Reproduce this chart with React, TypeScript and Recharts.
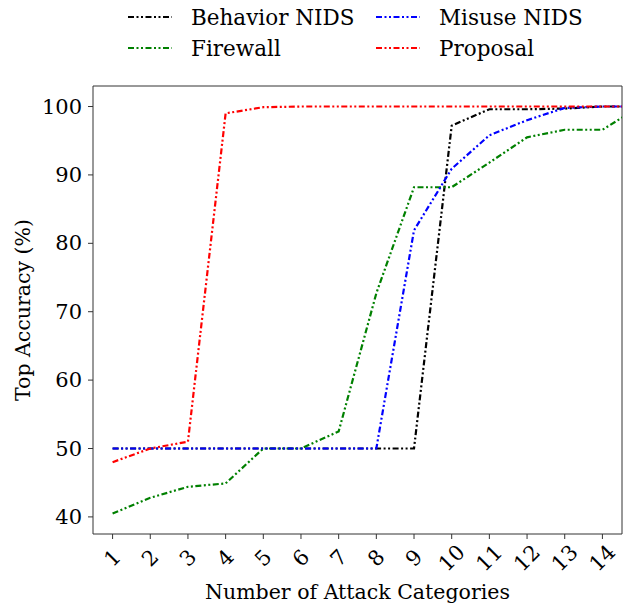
import { LineChart, Line, XAxis, YAxis, ReferenceLine } from 'recharts'

const categories = [1, 2, 3, 4, 5, 6, 7, 8, 9, 10, 11, 12, 13, 14, 15]
const behaviorNids = [50, 50, 50, 50, 50, 50, 50, 50, 50, 97.2, 99.6, 99.6, 99.7, 100, 100]
const firewall = [40.5, 42.8, 44.4, 44.9, 50, 50, 52.5, 72.7, 88.2, 88.2, 91.8, 95.5, 96.6, 96.6, 100]
const misuseNids = [50, 50, 50, 50, 50, 50, 50, 50, 81.9, 90.9, 95.8, 98.0, 99.8, 100, 100]
const proposal = [48, 50, 51, 99, 99.9, 100, 100, 100, 100, 100, 100, 100, 100, 100, 100]

const xTicks = [1, 2, 3, 4, 5, 6, 7, 8, 9, 10, 11, 12, 13, 14]
const yTicks = [40, 50, 60, 70, 80, 90, 100]
const X_DOMAIN = [0.48, 14.52]
const Y_DOMAIN = [37.5, 103]

const data = categories.map((c, i) => ({
  n: c,
  behavior: behaviorNids[i],
  firewall: firewall[i],
  misuse: misuseNids[i],
  proposal: proposal[i],
}))

const FONT = '"DejaVu Serif", serif'
const FS = 21
const DASH = '6 2.5 2 2.5 2 2.5'

const series = [
  { key: 'behavior', name: 'Behavior NIDS', color: '#000000' },
  { key: 'firewall', name: 'Firewall', color: '#008000' },
  { key: 'misuse', name: 'Misuse NIDS', color: '#0000ff' },
  { key: 'proposal', name: 'Proposal', color: '#ff0000' },
]

const XTick = (props: any) => {
  const { x, y, payload } = props
  const cy = y + 17
  return (
    <text
      x={x}
      y={cy}
      textAnchor="middle"
      dominantBaseline="central"
      transform={`rotate(-45, ${x}, ${cy})`}
      fontFamily={FONT}
      fontSize={FS}
      fill="#000"
    >
      {payload.value}
    </text>
  )
}

const YTick = (props: any) => {
  const { x, y, payload } = props
  return (
    <text x={x - 4} y={y} textAnchor="end" dominantBaseline="central" fontFamily={FONT} fontSize={FS} fill="#000">
      {payload.value}
    </text>
  )
}

const legendPos = [
  { x: 128, y: 17 },
  { x: 128, y: 48 },
  { x: 376, y: 17 },
  { x: 376, y: 48 },
]

const ChartLegend = () => (
  <svg width={631} height={70} style={{ position: 'absolute', left: 0, top: 0 }}>
    {series.map((s, i) => (
      <g key={s.key}>
        <line
          x1={legendPos[i].x}
          x2={legendPos[i].x + 44}
          y1={legendPos[i].y}
          y2={legendPos[i].y}
          stroke={s.color}
          strokeWidth={2.2}
          strokeDasharray={DASH}
        />
        <text
          x={legendPos[i].x + 63}
          y={legendPos[i].y}
          dominantBaseline="central"
          fontFamily={FONT}
          fontSize={21.5}
          fill="#000"
        >
          {s.name}
        </text>
      </g>
    ))}
  </svg>
)

export default function App() {
  return (
    <div style={{ position: 'absolute', left: 0, top: 0, width: 631, height: 606, background: '#fff' }}>
      <LineChart width={631} height={606} data={data} margin={{ top: 86, right: 9, left: 0, bottom: 0 }}>
        <XAxis
          dataKey="n"
          type="number"
          domain={X_DOMAIN}
          ticks={xTicks}
          allowDataOverflow
          height={72}
          tick={<XTick />}
          tickSize={5}
          stroke="#333"
          label={{ value: 'Number of Attack Categories', position: 'insideBottom', offset: 7, fontFamily: FONT, fontSize: 20.5, fill: '#000' }}
        />
        <YAxis
          type="number"
          domain={Y_DOMAIN}
          ticks={yTicks}
          allowDataOverflow
          width={93}
          tick={<YTick />}
          tickSize={5}
          stroke="#333"
          label={{ value: 'Top Accuracy (%)', angle: -90, position: 'insideLeft', offset: 23, fontFamily: FONT, fontSize: 20.5, fill: '#000', style: { textAnchor: 'middle' } }}
        />
        <ReferenceLine y={Y_DOMAIN[1]} stroke="#333" strokeWidth={1} />
        <ReferenceLine x={X_DOMAIN[1]} stroke="#333" strokeWidth={1} />
        {series.map((s) => (
          <Line
            key={s.key}
            dataKey={s.key}
            name={s.name}
            stroke={s.color}
            strokeWidth={2.2}
            strokeDasharray={DASH}
            dot={false}
            type="linear"
            isAnimationActive={false}
          />
        ))}
      </LineChart>
      <ChartLegend />
    </div>
  )
}
